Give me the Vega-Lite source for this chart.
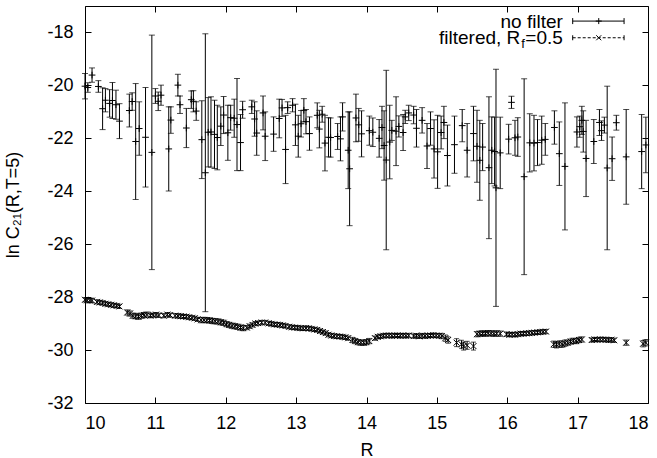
{
  "$schema": "https://vega.github.io/schema/vega-lite/v6.json",
  "width": 563,
  "height": 397,
  "autosize": {"type": "none"},
  "padding": {"left": 85, "top": 6, "right": 9, "bottom": 55},
  "background": "white",
  "config": {
    "font": "Liberation Sans",
    "view": {"stroke": "black", "strokeWidth": 1},
    "axis": {
      "labelFont": "Liberation Sans",
      "titleFont": "Liberation Sans",
      "labelFontSize": 18,
      "titleFontSize": 18,
      "titleFontWeight": "normal",
      "labelColor": "black",
      "titleColor": "black",
      "tickColor": "black",
      "domain": false,
      "grid": false,
      "tickSize": -6,
      "tickWidth": 1
    }
  },
  "datasets": {
    "nf": [
      {"R": 10.00, "y": -20.03, "e": 0.48},
      {"R": 10.04, "y": -20.08, "e": 0.18},
      {"R": 10.10, "y": -19.61, "e": 0.27},
      {"R": 10.19, "y": -20.04, "e": 0.22},
      {"R": 10.25, "y": -20.88, "e": 0.79},
      {"R": 10.29, "y": -20.56, "e": 0.44},
      {"R": 10.35, "y": -20.68, "e": 0.52},
      {"R": 10.39, "y": -20.57, "e": 0.68},
      {"R": 10.44, "y": -20.73, "e": 0.55},
      {"R": 10.49, "y": -21.35, "e": 0.66},
      {"R": 10.63, "y": -20.95, "e": 0.62},
      {"R": 10.67, "y": -20.61, "e": 0.33},
      {"R": 10.72, "y": -22.12, "e": 2.19},
      {"R": 10.77, "y": -21.63, "e": 1.01},
      {"R": 10.86, "y": -21.96, "e": 1.88},
      {"R": 10.95, "y": -22.53, "e": 4.43},
      {"R": 11.00, "y": -20.40, "e": 0.28},
      {"R": 11.04, "y": -20.60, "e": 0.35},
      {"R": 11.08, "y": -20.37, "e": 0.38},
      {"R": 11.19, "y": -22.40, "e": 1.59},
      {"R": 11.22, "y": -21.31, "e": 0.50},
      {"R": 11.32, "y": -19.99, "e": 0.41},
      {"R": 11.35, "y": -20.73, "e": 0.33},
      {"R": 11.44, "y": -21.61, "e": 0.74},
      {"R": 11.51, "y": -20.54, "e": 0.33},
      {"R": 11.54, "y": -20.60, "e": 0.40},
      {"R": 11.58, "y": -20.97, "e": 0.35},
      {"R": 11.66, "y": -22.05, "e": 1.47},
      {"R": 11.71, "y": -23.30, "e": 5.25},
      {"R": 11.75, "y": -21.77, "e": 1.31},
      {"R": 11.79, "y": -21.76, "e": 1.33},
      {"R": 11.84, "y": -21.85, "e": 1.29},
      {"R": 11.88, "y": -21.97, "e": 1.22},
      {"R": 11.93, "y": -21.54, "e": 0.73},
      {"R": 11.97, "y": -21.12, "e": 0.70},
      {"R": 12.03, "y": -21.79, "e": 1.04},
      {"R": 12.07, "y": -21.22, "e": 0.47},
      {"R": 12.12, "y": -21.24, "e": 0.72},
      {"R": 12.16, "y": -21.48, "e": 1.74},
      {"R": 12.21, "y": -22.16, "e": 1.06},
      {"R": 12.24, "y": -20.92, "e": 0.32},
      {"R": 12.37, "y": -20.81, "e": 0.25},
      {"R": 12.41, "y": -21.27, "e": 0.65},
      {"R": 12.44, "y": -21.80, "e": 0.84},
      {"R": 12.53, "y": -21.04, "e": 0.64},
      {"R": 12.56, "y": -21.92, "e": 0.92},
      {"R": 12.68, "y": -21.84, "e": 0.65},
      {"R": 12.76, "y": -21.25, "e": 0.73},
      {"R": 12.80, "y": -20.85, "e": 0.32},
      {"R": 12.85, "y": -22.42, "e": 1.29},
      {"R": 12.88, "y": -20.84, "e": 0.22},
      {"R": 12.95, "y": -20.75, "e": 0.25},
      {"R": 12.99, "y": -21.49, "e": 0.78},
      {"R": 13.03, "y": -21.92, "e": 0.79},
      {"R": 13.07, "y": -21.45, "e": 0.50},
      {"R": 13.11, "y": -20.94, "e": 0.44},
      {"R": 13.14, "y": -21.37, "e": 0.46},
      {"R": 13.19, "y": -21.82, "e": 0.63},
      {"R": 13.30, "y": -21.13, "e": 0.47},
      {"R": 13.33, "y": -21.65, "e": 0.71},
      {"R": 13.37, "y": -21.09, "e": 0.30},
      {"R": 13.41, "y": -22.18, "e": 1.05},
      {"R": 13.46, "y": -21.96, "e": 0.74},
      {"R": 13.49, "y": -21.97, "e": 0.74},
      {"R": 13.59, "y": -21.93, "e": 0.49},
      {"R": 13.63, "y": -22.02, "e": 0.83},
      {"R": 13.66, "y": -21.19, "e": 0.53},
      {"R": 13.74, "y": -22.45, "e": 1.45},
      {"R": 13.76, "y": -23.15, "e": 2.15},
      {"R": 13.85, "y": -21.23, "e": 0.90},
      {"R": 13.89, "y": -21.49, "e": 0.62},
      {"R": 13.93, "y": -21.83, "e": 0.87},
      {"R": 14.04, "y": -21.71, "e": 0.55},
      {"R": 14.09, "y": -21.77, "e": 0.54},
      {"R": 14.18, "y": -22.00, "e": 0.71},
      {"R": 14.22, "y": -21.59, "e": 0.80},
      {"R": 14.25, "y": -22.27, "e": 1.31},
      {"R": 14.28, "y": -22.82, "e": 3.39},
      {"R": 14.33, "y": -22.14, "e": 1.39},
      {"R": 14.36, "y": -21.70, "e": 0.38},
      {"R": 14.42, "y": -21.73, "e": 1.30},
      {"R": 14.46, "y": -21.55, "e": 0.40},
      {"R": 14.52, "y": -21.78, "e": 0.68},
      {"R": 14.55, "y": -21.19, "e": 0.25},
      {"R": 14.60, "y": -21.04, "e": 0.29},
      {"R": 14.67, "y": -21.12, "e": 0.33},
      {"R": 14.71, "y": -21.62, "e": 0.71},
      {"R": 14.79, "y": -21.32, "e": 0.48},
      {"R": 14.86, "y": -22.29, "e": 0.85},
      {"R": 14.91, "y": -21.63, "e": 0.63},
      {"R": 14.96, "y": -22.40, "e": 1.10},
      {"R": 15.01, "y": -22.51, "e": 1.38},
      {"R": 15.06, "y": -21.78, "e": 0.62},
      {"R": 15.10, "y": -21.40, "e": 0.61},
      {"R": 15.15, "y": -22.65, "e": 1.15},
      {"R": 15.25, "y": -22.24, "e": 1.08},
      {"R": 15.36, "y": -21.52, "e": 0.61},
      {"R": 15.43, "y": -22.45, "e": 1.01},
      {"R": 15.52, "y": -21.82, "e": 1.03},
      {"R": 15.57, "y": -22.30, "e": 1.36},
      {"R": 15.61, "y": -22.83, "e": 1.51},
      {"R": 15.65, "y": -22.33, "e": 0.89},
      {"R": 15.74, "y": -23.11, "e": 2.68},
      {"R": 15.78, "y": -22.45, "e": 1.26},
      {"R": 15.82, "y": -22.50, "e": 1.30},
      {"R": 15.84, "y": -23.87, "e": 4.48},
      {"R": 15.90, "y": -22.55, "e": 1.35},
      {"R": 16.02, "y": -22.03, "e": 0.56},
      {"R": 16.06, "y": -20.64, "e": 0.23},
      {"R": 16.11, "y": -21.98, "e": 0.66},
      {"R": 16.15, "y": -21.95, "e": 0.73},
      {"R": 16.24, "y": -23.45, "e": 3.70},
      {"R": 16.32, "y": -22.17, "e": 1.10},
      {"R": 16.38, "y": -22.18, "e": 1.05},
      {"R": 16.43, "y": -22.16, "e": 0.87},
      {"R": 16.49, "y": -22.07, "e": 0.91},
      {"R": 16.54, "y": -22.04, "e": 0.60},
      {"R": 16.67, "y": -21.59, "e": 0.63},
      {"R": 16.74, "y": -22.58, "e": 1.20},
      {"R": 16.82, "y": -23.06, "e": 2.40},
      {"R": 16.99, "y": -21.76, "e": 0.57},
      {"R": 17.03, "y": -21.56, "e": 0.40},
      {"R": 17.06, "y": -21.32, "e": 0.53},
      {"R": 17.08, "y": -21.74, "e": 0.78},
      {"R": 17.12, "y": -22.76, "e": 1.44},
      {"R": 17.23, "y": -22.12, "e": 0.83},
      {"R": 17.31, "y": -21.40, "e": 0.49},
      {"R": 17.34, "y": -21.71, "e": 0.37},
      {"R": 17.38, "y": -21.50, "e": 0.30},
      {"R": 17.42, "y": -23.12, "e": 3.09},
      {"R": 17.49, "y": -22.77, "e": 0.82},
      {"R": 17.55, "y": -21.41, "e": 0.28},
      {"R": 17.69, "y": -22.70, "e": 1.79},
      {"R": 17.91, "y": -22.50, "e": 1.40},
      {"R": 17.97, "y": -22.25, "e": 1.05}
    ],
    "fl": [
      {"R": 10.00, "y": -28.10, "e": 0.08}, {"R": 10.03, "y": -28.12, "e": 0.08},
      {"R": 10.07, "y": -28.13, "e": 0.08}, {"R": 10.10, "y": -28.13, "e": 0.08},
      {"R": 10.17, "y": -28.18, "e": 0.08}, {"R": 10.21, "y": -28.20, "e": 0.08},
      {"R": 10.25, "y": -28.22, "e": 0.08}, {"R": 10.29, "y": -28.25, "e": 0.08},
      {"R": 10.33, "y": -28.27, "e": 0.08}, {"R": 10.37, "y": -28.29, "e": 0.08},
      {"R": 10.41, "y": -28.31, "e": 0.08}, {"R": 10.45, "y": -28.33, "e": 0.08},
      {"R": 10.49, "y": -28.35, "e": 0.08},
      {"R": 10.60, "y": -28.58, "e": 0.1}, {"R": 10.64, "y": -28.62, "e": 0.1},
      {"R": 10.68, "y": -28.70, "e": 0.1}, {"R": 10.72, "y": -28.72, "e": 0.1},
      {"R": 10.76, "y": -28.74, "e": 0.1}, {"R": 10.80, "y": -28.70, "e": 0.1},
      {"R": 10.84, "y": -28.68, "e": 0.1}, {"R": 10.88, "y": -28.66, "e": 0.1},
      {"R": 10.93, "y": -28.70, "e": 0.08}, {"R": 10.97, "y": -28.68, "e": 0.08},
      {"R": 11.01, "y": -28.66, "e": 0.08}, {"R": 11.05, "y": -28.69, "e": 0.08},
      {"R": 11.12, "y": -28.70, "e": 0.08}, {"R": 11.17, "y": -28.66, "e": 0.08},
      {"R": 11.21, "y": -28.68, "e": 0.08},
      {"R": 11.28, "y": -28.70, "e": 0.08}, {"R": 11.32, "y": -28.71, "e": 0.08},
      {"R": 11.36, "y": -28.72, "e": 0.08}, {"R": 11.40, "y": -28.73, "e": 0.08},
      {"R": 11.44, "y": -28.74, "e": 0.08}, {"R": 11.48, "y": -28.76, "e": 0.08},
      {"R": 11.52, "y": -28.78, "e": 0.08}, {"R": 11.56, "y": -28.80, "e": 0.08},
      {"R": 11.60, "y": -28.84, "e": 0.08},
      {"R": 11.65, "y": -28.87, "e": 0.1}, {"R": 11.69, "y": -28.86, "e": 0.1},
      {"R": 11.73, "y": -28.87, "e": 0.1}, {"R": 11.77, "y": -28.88, "e": 0.1},
      {"R": 11.81, "y": -28.90, "e": 0.1}, {"R": 11.85, "y": -28.91, "e": 0.1},
      {"R": 11.89, "y": -28.92, "e": 0.1}, {"R": 11.93, "y": -28.95, "e": 0.1},
      {"R": 11.97, "y": -28.97, "e": 0.1}, {"R": 12.01, "y": -29.02, "e": 0.1},
      {"R": 12.05, "y": -29.05, "e": 0.1}, {"R": 12.09, "y": -29.08, "e": 0.1},
      {"R": 12.13, "y": -29.10, "e": 0.1}, {"R": 12.17, "y": -29.12, "e": 0.1},
      {"R": 12.21, "y": -29.15, "e": 0.1}, {"R": 12.25, "y": -29.17, "e": 0.1},
      {"R": 12.30, "y": -29.15, "e": 0.08}, {"R": 12.34, "y": -29.10, "e": 0.08},
      {"R": 12.38, "y": -29.05, "e": 0.08}, {"R": 12.42, "y": -29.00, "e": 0.08},
      {"R": 12.46, "y": -28.98, "e": 0.08}, {"R": 12.51, "y": -28.96, "e": 0.08},
      {"R": 12.56, "y": -28.96, "e": 0.08}, {"R": 12.61, "y": -28.99, "e": 0.08},
      {"R": 12.65, "y": -29.01, "e": 0.08}, {"R": 12.69, "y": -29.03, "e": 0.08},
      {"R": 12.73, "y": -29.04, "e": 0.08}, {"R": 12.77, "y": -29.05, "e": 0.08},
      {"R": 12.81, "y": -29.07, "e": 0.08}, {"R": 12.85, "y": -29.09, "e": 0.08},
      {"R": 12.90, "y": -29.12, "e": 0.08}, {"R": 12.94, "y": -29.14, "e": 0.08},
      {"R": 12.98, "y": -29.15, "e": 0.08}, {"R": 13.02, "y": -29.16, "e": 0.08},
      {"R": 13.06, "y": -29.17, "e": 0.08}, {"R": 13.10, "y": -29.18, "e": 0.08},
      {"R": 13.14, "y": -29.17, "e": 0.08}, {"R": 13.18, "y": -29.18, "e": 0.08},
      {"R": 13.22, "y": -29.20, "e": 0.08}, {"R": 13.26, "y": -29.22, "e": 0.08},
      {"R": 13.30, "y": -29.24, "e": 0.08}, {"R": 13.34, "y": -29.28, "e": 0.08},
      {"R": 13.38, "y": -29.32, "e": 0.08}, {"R": 13.42, "y": -29.36, "e": 0.08},
      {"R": 13.46, "y": -29.42, "e": 0.08}, {"R": 13.50, "y": -29.45, "e": 0.08},
      {"R": 13.54, "y": -29.47, "e": 0.08}, {"R": 13.58, "y": -29.48, "e": 0.08},
      {"R": 13.62, "y": -29.49, "e": 0.08}, {"R": 13.66, "y": -29.50, "e": 0.08},
      {"R": 13.70, "y": -29.52, "e": 0.08}, {"R": 13.74, "y": -29.55, "e": 0.08},
      {"R": 13.80, "y": -29.62, "e": 0.1}, {"R": 13.84, "y": -29.66, "e": 0.1},
      {"R": 13.88, "y": -29.70, "e": 0.1}, {"R": 13.92, "y": -29.72, "e": 0.1},
      {"R": 13.96, "y": -29.72, "e": 0.1}, {"R": 14.00, "y": -29.70, "e": 0.1},
      {"R": 14.04, "y": -29.66, "e": 0.1},
      {"R": 14.12, "y": -29.55, "e": 0.08}, {"R": 14.16, "y": -29.50, "e": 0.08},
      {"R": 14.20, "y": -29.48, "e": 0.08}, {"R": 14.24, "y": -29.46, "e": 0.08},
      {"R": 14.28, "y": -29.45, "e": 0.08}, {"R": 14.32, "y": -29.45, "e": 0.08},
      {"R": 14.36, "y": -29.46, "e": 0.08}, {"R": 14.40, "y": -29.45, "e": 0.08},
      {"R": 14.44, "y": -29.45, "e": 0.08}, {"R": 14.48, "y": -29.46, "e": 0.08},
      {"R": 14.52, "y": -29.45, "e": 0.08}, {"R": 14.56, "y": -29.46, "e": 0.08},
      {"R": 14.60, "y": -29.45, "e": 0.08},
      {"R": 14.67, "y": -29.47, "e": 0.08}, {"R": 14.71, "y": -29.46, "e": 0.08},
      {"R": 14.75, "y": -29.48, "e": 0.08}, {"R": 14.79, "y": -29.45, "e": 0.08},
      {"R": 14.83, "y": -29.47, "e": 0.08}, {"R": 14.87, "y": -29.46, "e": 0.08},
      {"R": 14.91, "y": -29.45, "e": 0.08}, {"R": 14.95, "y": -29.44, "e": 0.08},
      {"R": 14.99, "y": -29.45, "e": 0.08}, {"R": 15.03, "y": -29.46, "e": 0.08},
      {"R": 15.07, "y": -29.47, "e": 0.1},
      {"R": 15.12, "y": -29.55, "e": 0.12}, {"R": 15.16, "y": -29.62, "e": 0.12},
      {"R": 15.28, "y": -29.72, "e": 0.15}, {"R": 15.35, "y": -29.78, "e": 0.15},
      {"R": 15.38, "y": -29.85, "e": 0.15}, {"R": 15.43, "y": -29.82, "e": 0.15},
      {"R": 15.52, "y": -29.85, "e": 0.15},
      {"R": 15.57, "y": -29.40, "e": 0.1}, {"R": 15.61, "y": -29.38, "e": 0.1},
      {"R": 15.65, "y": -29.37, "e": 0.1}, {"R": 15.69, "y": -29.38, "e": 0.1},
      {"R": 15.73, "y": -29.36, "e": 0.1}, {"R": 15.77, "y": -29.37, "e": 0.1},
      {"R": 15.81, "y": -29.38, "e": 0.1}, {"R": 15.85, "y": -29.37, "e": 0.1},
      {"R": 15.90, "y": -29.38, "e": 0.1},
      {"R": 15.99, "y": -29.40, "e": 0.08}, {"R": 16.03, "y": -29.42, "e": 0.08},
      {"R": 16.07, "y": -29.41, "e": 0.08}, {"R": 16.11, "y": -29.42, "e": 0.08},
      {"R": 16.15, "y": -29.40, "e": 0.08}, {"R": 16.19, "y": -29.38, "e": 0.08},
      {"R": 16.23, "y": -29.38, "e": 0.08}, {"R": 16.27, "y": -29.37, "e": 0.08},
      {"R": 16.31, "y": -29.36, "e": 0.08}, {"R": 16.35, "y": -29.35, "e": 0.08},
      {"R": 16.39, "y": -29.34, "e": 0.08}, {"R": 16.43, "y": -29.33, "e": 0.08},
      {"R": 16.47, "y": -29.32, "e": 0.08}, {"R": 16.51, "y": -29.31, "e": 0.08},
      {"R": 16.55, "y": -29.30, "e": 0.08},
      {"R": 16.66, "y": -29.78, "e": 0.12}, {"R": 16.70, "y": -29.80, "e": 0.12},
      {"R": 16.74, "y": -29.77, "e": 0.12}, {"R": 16.78, "y": -29.78, "e": 0.12},
      {"R": 16.82, "y": -29.74, "e": 0.12}, {"R": 16.86, "y": -29.72, "e": 0.1},
      {"R": 16.90, "y": -29.68, "e": 0.1}, {"R": 16.94, "y": -29.65, "e": 0.1},
      {"R": 16.98, "y": -29.66, "e": 0.1}, {"R": 17.02, "y": -29.62, "e": 0.1},
      {"R": 17.06, "y": -29.60, "e": 0.1},
      {"R": 17.20, "y": -29.62, "e": 0.08}, {"R": 17.24, "y": -29.60, "e": 0.08},
      {"R": 17.28, "y": -29.61, "e": 0.08}, {"R": 17.32, "y": -29.60, "e": 0.08},
      {"R": 17.36, "y": -29.60, "e": 0.08}, {"R": 17.40, "y": -29.61, "e": 0.08},
      {"R": 17.44, "y": -29.62, "e": 0.08}, {"R": 17.48, "y": -29.61, "e": 0.08},
      {"R": 17.52, "y": -29.63, "e": 0.08},
      {"R": 17.69, "y": -29.72, "e": 0.1},
      {"R": 17.93, "y": -29.76, "e": 0.12}, {"R": 17.97, "y": -29.72, "e": 0.12}
    ],
    "legtxt": [{"x": 16.79, "y1": -17.6, "y2": -18.2}],
    "legnf": [{"x1": 16.93, "x2": 17.66, "xm": 17.3, "y": -17.57}],
    "legfl": [{"x1": 16.93, "x2": 17.66, "xm": 17.3, "y": -18.2}]
  },
  "resolve": {"axis": {"x": "independent", "y": "independent"}},
  "layer": [
    {
      "data": {"name": "nf"},
      "mark": {"type": "errorbar", "color": "black", "ticks": {"size": 6, "thickness": 1}, "rule": {"strokeWidth": 1}},
      "encoding": {
        "x": {"field": "R", "type": "quantitative", "scale": {"domain": [10, 18], "nice": false, "zero": false},
              "axis": {"orient": "bottom", "values": [10, 11, 12, 13, 14, 15, 16, 17, 18], "labelPadding": 17, "title": "R", "titlePadding": 9}},
        "y": {"field": "y", "type": "quantitative", "scale": {"domain": [-32, -17], "nice": false, "zero": false},
              "axis": {"orient": "left", "values": [-32, -30, -28, -26, -24, -22, -20, -18], "labelExpr": "toString(datum.value)", "labelPadding": 18, "title": "ln C₂₁(R,T=5)", "titlePadding": 24}},
        "yError": {"field": "e"}
      }
    },
    {
      "data": {"name": "nf"},
      "mark": {"type": "point", "shape": "M-1,0L1,0M0,-1L0,1", "filled": false, "size": 45, "color": "black", "strokeWidth": 1, "opacity": 1},
      "encoding": {
        "x": {"field": "R", "type": "quantitative", "axis": {"orient": "top", "values": [10, 11, 12, 13, 14, 15, 16, 17, 18], "labels": false, "title": null}},
        "y": {"field": "y", "type": "quantitative", "axis": {"orient": "right", "values": [-32, -30, -28, -26, -24, -22, -20, -18], "labels": false, "title": null}}
      }
    },
    {
      "data": {"name": "fl"},
      "mark": {"type": "errorbar", "color": "black", "ticks": {"size": 5, "thickness": 1}, "rule": {"strokeWidth": 1}},
      "encoding": {
        "x": {"field": "R", "type": "quantitative", "axis": null},
        "y": {"field": "y", "type": "quantitative", "axis": null},
        "yError": {"field": "e"}
      }
    },
    {
      "data": {"name": "fl"},
      "mark": {"type": "point", "shape": "M-1,-1L1,1M-1,1L1,-1", "filled": false, "size": 36, "color": "black", "strokeWidth": 1, "opacity": 1},
      "encoding": {
        "x": {"field": "R", "type": "quantitative", "axis": null},
        "y": {"field": "y", "type": "quantitative", "axis": null}
      }
    },
    {
      "data": {"name": "legtxt"},
      "mark": {"type": "text", "align": "right", "baseline": "middle", "fontSize": 19, "font": "Liberation Sans", "color": "black"},
      "encoding": {
        "x": {"field": "x", "type": "quantitative", "axis": null},
        "y": {"field": "y1", "type": "quantitative", "axis": null},
        "text": {"value": "no filter"}
      }
    },
    {
      "data": {"name": "legtxt"},
      "mark": {"type": "text", "align": "right", "baseline": "middle", "fontSize": 19, "font": "Liberation Sans", "color": "black"},
      "encoding": {
        "x": {"field": "x", "type": "quantitative", "axis": null},
        "y": {"field": "y2", "type": "quantitative", "axis": null},
        "text": {"value": "=0.5"}
      }
    },
    {
      "data": {"name": "legtxt"},
      "mark": {"type": "text", "align": "right", "baseline": "middle", "fontSize": 13, "font": "Liberation Sans", "color": "black", "dx": -38, "dy": 6},
      "encoding": {
        "x": {"field": "x", "type": "quantitative", "axis": null},
        "y": {"field": "y2", "type": "quantitative", "axis": null},
        "text": {"value": "f"}
      }
    },
    {
      "data": {"name": "legtxt"},
      "mark": {"type": "text", "align": "right", "baseline": "middle", "fontSize": 19, "font": "Liberation Sans", "color": "black", "dx": -42.5},
      "encoding": {
        "x": {"field": "x", "type": "quantitative", "axis": null},
        "y": {"field": "y2", "type": "quantitative", "axis": null},
        "text": {"value": "filtered, R"}
      }
    },
    {
      "data": {"name": "legnf"},
      "mark": {"type": "rule", "color": "black", "strokeWidth": 1},
      "encoding": {
        "x": {"field": "x1", "type": "quantitative", "axis": null},
        "x2": {"field": "x2"},
        "y": {"field": "y", "type": "quantitative", "axis": null}
      }
    },
    {
      "data": {"name": "legnf"},
      "mark": {"type": "point", "shape": "M-1,0L1,0M0,-1L0,1", "filled": false, "size": 36, "color": "black", "strokeWidth": 1, "opacity": 1},
      "encoding": {
        "x": {"field": "xm", "type": "quantitative", "axis": null},
        "y": {"field": "y", "type": "quantitative", "axis": null}
      }
    },
    {
      "data": {"name": "legnf"},
      "layer": [
        {"mark": {"type": "point", "shape": "M0,-1L0,1", "filled": false, "size": 36, "color": "black", "strokeWidth": 1, "opacity": 1},
         "encoding": {"x": {"field": "x1", "type": "quantitative", "axis": null}, "y": {"field": "y", "type": "quantitative", "axis": null}}},
        {"mark": {"type": "point", "shape": "M0,-1L0,1", "filled": false, "size": 36, "color": "black", "strokeWidth": 1, "opacity": 1},
         "encoding": {"x": {"field": "x2", "type": "quantitative", "axis": null}, "y": {"field": "y", "type": "quantitative", "axis": null}}}
      ]
    },
    {
      "data": {"name": "legfl"},
      "mark": {"type": "rule", "color": "black", "strokeWidth": 1, "strokeDash": [3, 2]},
      "encoding": {
        "x": {"field": "x1", "type": "quantitative", "axis": null},
        "x2": {"field": "x2"},
        "y": {"field": "y", "type": "quantitative", "axis": null}
      }
    },
    {
      "data": {"name": "legfl"},
      "mark": {"type": "point", "shape": "M-1,-1L1,1M-1,1L1,-1", "filled": false, "size": 25, "color": "black", "strokeWidth": 1, "opacity": 1},
      "encoding": {
        "x": {"field": "xm", "type": "quantitative", "axis": null},
        "y": {"field": "y", "type": "quantitative", "axis": null}
      }
    },
    {
      "data": {"name": "legfl"},
      "layer": [
        {"mark": {"type": "point", "shape": "M0,-1L0,1", "filled": false, "size": 25, "color": "black", "strokeWidth": 1, "opacity": 1},
         "encoding": {"x": {"field": "x1", "type": "quantitative", "axis": null}, "y": {"field": "y", "type": "quantitative", "axis": null}}},
        {"mark": {"type": "point", "shape": "M0,-1L0,1", "filled": false, "size": 25, "color": "black", "strokeWidth": 1, "opacity": 1},
         "encoding": {"x": {"field": "x2", "type": "quantitative", "axis": null}, "y": {"field": "y", "type": "quantitative", "axis": null}}}
      ]
    }
  ]
}
